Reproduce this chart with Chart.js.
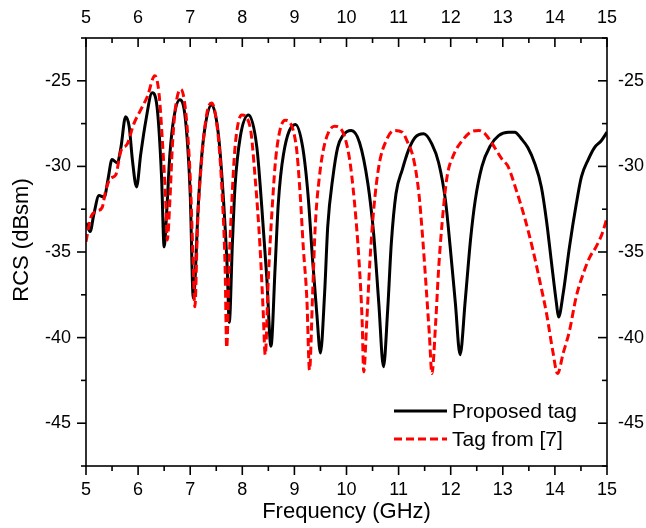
<!DOCTYPE html>
<html>
<head>
<meta charset="utf-8">
<script src="https://cdn.jsdelivr.net/npm/chart.js@4.4.1/dist/chart.umd.min.js"></script>
<style>
  html, body { margin: 0; padding: 0; background: #fff; }
  #wrap { width: 646px; height: 528px; }
</style>
</head>
<body>
<div id="wrap"><canvas id="rcsChart"></canvas></div>
<script>
// Frequency (GHz) and RCS (dBsm)
const blackFreq = [5.0, 5.08, 5.15, 5.25, 5.35, 5.42, 5.5, 5.6, 5.67, 5.76, 5.83, 5.89, 5.97, 6.05, 6.15, 6.27, 6.37, 6.45, 6.5, 6.55, 6.61, 6.69, 6.8, 6.91, 7.0, 7.06, 7.16, 7.25, 7.41, 7.54, 7.64, 7.71, 7.75, 7.81, 7.86, 7.96, 8.12, 8.28, 8.37, 8.47, 8.55, 8.63, 8.69, 8.79, 9.02, 9.16, 9.26, 9.35, 9.43, 9.5, 9.58, 9.64, 9.74, 9.83, 9.93, 10.09, 10.25, 10.41, 10.52, 10.62, 10.71, 10.79, 10.86, 10.95, 11.07, 11.19, 11.32, 11.48, 11.64, 11.77, 11.9, 11.99, 12.09, 12.18, 12.28, 12.38, 12.47, 12.6, 12.76, 12.92, 13.11, 13.23, 13.36, 13.48, 13.61, 13.74, 13.84, 13.93, 14.03, 14.07, 14.16, 14.28, 14.41, 14.51, 14.64, 14.76, 14.89, 15.0];
const blackRcs = [-33.3, -33.8, -32.8, -31.7, -31.8, -30.8, -29.6, -29.8, -28.9, -27.1, -27.7, -29.6, -31.2, -29.3, -27.3, -25.7, -26.7, -30.6, -34.7, -32.6, -29.3, -27.1, -26.1, -27.3, -31.6, -37.7, -32.0, -28.5, -26.4, -28.1, -32.0, -35.9, -39.1, -34.5, -31.2, -28.3, -27.0, -28.9, -32.2, -36.5, -40.5, -35.9, -32.2, -29.3, -27.55, -28.9, -31.6, -35.5, -38.6, -40.9, -37.4, -33.5, -30.6, -28.9, -28.2, -27.9, -28.6, -31.0, -33.9, -38.0, -41.7, -38.4, -34.5, -31.6, -30.2, -29.05, -28.3, -28.1, -28.7, -29.8, -32.0, -34.7, -38.0, -41.0, -37.8, -34.3, -32.0, -30.0, -28.8, -28.2, -28.0, -28.0, -28.4, -28.9, -29.8, -31.2, -33.2, -35.5, -38.0, -38.8, -37.4, -34.7, -32.2, -30.6, -29.6, -28.9, -28.5, -28.0];

const redFreq = [5.0, 5.09, 5.22, 5.31, 5.38, 5.47, 5.57, 5.67, 5.79, 5.92, 6.05, 6.18, 6.32, 6.4, 6.47, 6.53, 6.56, 6.61, 6.66, 6.72, 6.82, 6.91, 7.0, 7.05, 7.09, 7.14, 7.22, 7.32, 7.41, 7.54, 7.62, 7.67, 7.7, 7.75, 7.8, 7.86, 7.99, 8.15, 8.25, 8.34, 8.4, 8.44, 8.5, 8.57, 8.65, 8.82, 9.03, 9.11, 9.17, 9.24, 9.29, 9.35, 9.4, 9.48, 9.58, 9.77, 9.93, 10.06, 10.15, 10.24, 10.3, 10.33, 10.39, 10.45, 10.52, 10.62, 10.76, 10.92, 11.07, 11.16, 11.29, 11.39, 11.46, 11.53, 11.59, 11.64, 11.71, 11.77, 11.85, 11.93, 12.06, 12.22, 12.38, 12.54, 12.66, 12.76, 12.99, 13.1, 13.26, 13.42, 13.58, 13.71, 13.84, 13.96, 14.05, 14.16, 14.28, 14.41, 14.54, 14.67, 14.79, 14.91, 15.0];
const redRcs = [-34.4, -33.0, -32.6, -32.4, -31.4, -30.7, -30.5, -29.1, -28.7, -27.5, -26.7, -25.9, -24.7, -25.7, -28.7, -32.0, -34.3, -32.0, -28.7, -26.5, -25.5, -26.7, -30.6, -35.0, -38.2, -33.5, -29.6, -26.9, -26.3, -28.3, -32.0, -35.9, -40.6, -35.5, -32.0, -28.9, -27.0, -27.7, -30.8, -34.7, -38.4, -41.0, -36.5, -32.6, -29.3, -27.3, -28.7, -31.6, -34.7, -37.8, -41.9, -37.4, -33.5, -30.6, -28.7, -27.65, -28.0, -29.6, -32.0, -35.5, -39.0, -42.0, -39.0, -35.5, -32.6, -30.0, -28.5, -27.9, -28.0, -28.5, -29.6, -31.6, -34.1, -37.1, -39.8, -42.1, -39.2, -35.9, -32.8, -30.6, -29.3, -28.5, -28.0, -27.9, -28.1, -28.5, -29.6, -30.0, -31.4, -33.0, -34.9, -36.7, -38.6, -40.8, -42.1, -40.9, -39.6, -37.6, -36.3, -35.3, -34.7, -33.9, -33.0];

const seriesNames = ['Proposed tag', 'Tag from [7]'];
const xTicks = [5, 6, 7, 8, 9, 10, 11, 12, 13, 14, 15];
const yTicks = [-45, -40, -35, -30, -25];

const FONT = '"Liberation Sans", Arial, sans-serif';

function toPoints(xs, ys) {
    return xs.map((x, i) => ({ x: x, y: ys[i] }));
}

function setTicks(values) {
    return function(scale) {
        scale.ticks = values.map(v => ({ value: v }));
    };
}

// frame, inward/outward tick marks, axis titles and legend
const decorations = {
    id: 'decorations',
    afterDraw(chart) {
        const ctx = chart.ctx;
        const a = chart.chartArea;
        const xs = chart.scales.x;
        const ys = chart.scales.y;
        ctx.save();
        ctx.strokeStyle = '#000';
        ctx.lineWidth = 1.6;
        ctx.strokeRect(a.left, a.top, a.right - a.left, a.bottom - a.top);

        const seg = (x1, y1, x2, y2) => {
            ctx.beginPath();
            ctx.moveTo(x1, y1);
            ctx.lineTo(x2, y2);
            ctx.stroke();
        };

        // x ticks: bottom outward, top inward
        for (let i = 0; i < xTicks.length; i++) {
            const px = xs.getPixelForValue(xTicks[i]);
            seg(px, a.bottom, px, a.bottom + 9);
            seg(px, a.top, px, a.top + 9);
            if (i < xTicks.length - 1) {
                const pm = xs.getPixelForValue((xTicks[i] + xTicks[i + 1]) / 2);
                seg(pm, a.bottom, pm, a.bottom + 5);
                seg(pm, a.top, pm, a.top + 5);
            }
        }
        // y ticks: left outward, right inward
        const yMinor = [-47.5].concat(yTicks.map(v => v + 2.5));
        yTicks.forEach(v => {
            const py = ys.getPixelForValue(v);
            seg(a.left - 9, py, a.left, py);
            seg(a.right - 9, py, a.right, py);
        });
        yMinor.forEach(v => {
            const py = ys.getPixelForValue(v);
            seg(a.left - 5, py, a.left, py);
            seg(a.right - 5, py, a.right, py);
        });

        // axis titles
        ctx.fillStyle = '#000';
        ctx.font = '22px ' + FONT;
        ctx.textAlign = 'center';
        ctx.textBaseline = 'middle';
        ctx.fillText('Frequency (GHz)', (a.left + a.right) / 2, 512);
        ctx.save();
        ctx.translate(22, 240);
        ctx.rotate(-Math.PI / 2);
        ctx.fillText('RCS (dBsm)', 0, 0);
        ctx.restore();

        // legend
        const ds = chart.data.datasets;
        const rows = [411, 439];
        ctx.font = '21px ' + FONT;
        ctx.textAlign = 'left';
        ds.forEach((d, i) => {
            ctx.save();
            ctx.strokeStyle = d.borderColor;
            ctx.lineWidth = d.borderWidth;
            ctx.setLineDash(d.borderDash || []);
            seg(394, rows[i], 447, rows[i]);
            ctx.restore();
            ctx.fillText(d.label, 452, rows[i] + 1);
        });
        ctx.restore();
    }
};

const tickFont = { family: FONT, size: 18 };

new Chart(document.getElementById('rcsChart'), {
    type: 'scatter',
    data: {
        datasets: [
            {
                label: seriesNames[0],
                data: toPoints(blackFreq, blackRcs),
                showLine: true,
                borderColor: '#000000',
                borderWidth: 3,
                pointRadius: 0,
                cubicInterpolationMode: 'monotone',
                order: 1
            },
            {
                label: seriesNames[1],
                data: toPoints(redFreq, redRcs),
                showLine: true,
                borderColor: '#ff0000',
                borderWidth: 3,
                borderDash: [8, 4],
                pointRadius: 0,
                cubicInterpolationMode: 'monotone',
                order: 0
            }
        ]
    },
    options: {
        responsive: true,
        maintainAspectRatio: false,
        animation: false,
        layout: { padding: 0 },
        plugins: {
            legend: { display: false },
            tooltip: { enabled: false }
        },
        scales: {
            x: {
                type: 'linear', position: 'bottom', min: 5, max: 15,
                grid: { display: false, drawTicks: false }, border: { display: false },
                ticks: { font: tickFont, color: '#000', padding: 13, maxRotation: 0 },
                afterBuildTicks: setTicks(xTicks),
                afterFit(scale) { scale.height = 62; }
            },
            x2: {
                type: 'linear', position: 'top', min: 5, max: 15,
                grid: { display: false, drawTicks: false }, border: { display: false },
                ticks: { font: tickFont, color: '#000', padding: 9, maxRotation: 0 },
                afterBuildTicks: setTicks(xTicks),
                afterFit(scale) { scale.height = 38; }
            },
            y: {
                type: 'linear', position: 'left', min: -47.5, max: -22.5,
                grid: { display: false, drawTicks: false }, border: { display: false },
                ticks: { font: tickFont, color: '#000', padding: 15 },
                afterBuildTicks: setTicks(yTicks),
                afterFit(scale) { scale.width = 86; }
            },
            y2: {
                type: 'linear', position: 'right', min: -47.5, max: -22.5,
                grid: { display: false, drawTicks: false }, border: { display: false },
                ticks: { font: tickFont, color: '#000', padding: 11 },
                afterBuildTicks: setTicks(yTicks),
                afterFit(scale) { scale.width = 39; }
            }
        }
    },
    plugins: [decorations]
});
</script>
</body>
</html>
